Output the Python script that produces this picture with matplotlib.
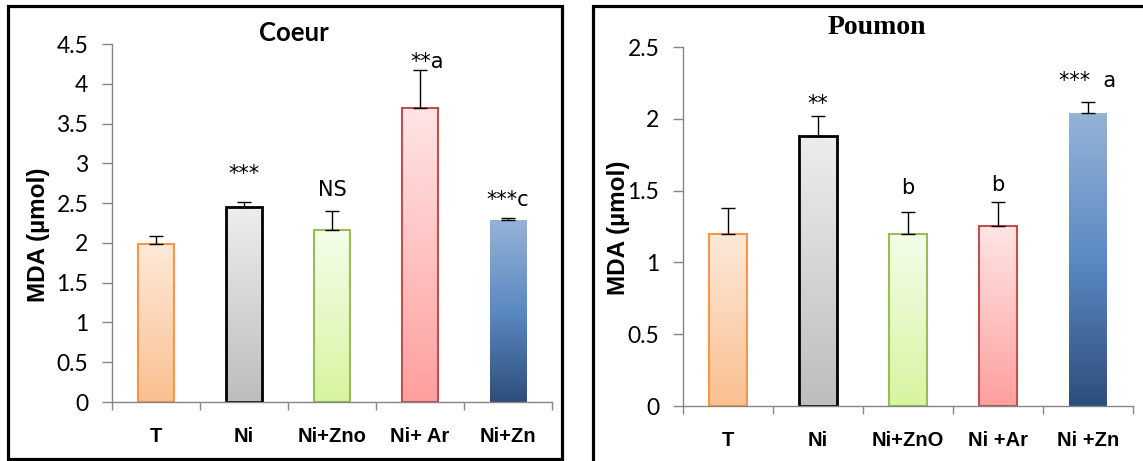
import numpy as np
import matplotlib
matplotlib.use("Agg")
import matplotlib.pyplot as plt
from matplotlib.colors import LinearSegmentedColormap
from matplotlib.patches import Rectangle

# data
coeur_labels = ["T", "Ni", "Ni+Zno", "Ni+ Ar", "Ni+Zn"]
coeur_values = [1.98, 2.45, 2.16, 3.70, 2.29]
coeur_err = [0.11, 0.06, 0.24, 0.47, 0.02]
coeur_marks = ["", "***", "NS", "**a", "***c"]
coeur_mark_y = [0, 2.87, 2.66, 4.28, 2.54]

poumon_labels = ["T", "Ni", "Ni+ZnO", "Ni +Ar", "Ni +Zn"]
poumon_values = [1.20, 1.88, 1.20, 1.25, 2.04]
poumon_err = [0.18, 0.14, 0.15, 0.17, 0.08]
poumon_marks = ["", "**", "b", "b", "***  a"]
poumon_mark_y = [0, 2.10, 1.52, 1.54, 2.26]

# gradient colours (top, ..., bottom) and edge colours per bar
grads = [
    ["#FDE9D9", "#FAC090"],
    ["#EDEDED", "#BDBDBD"],
    ["#F4FDEA", "#D7F5A0"],
    ["#FFE5E5", "#FF9F9F"],
    ["#95B3D7", "#5B89C3", "#2D4E7B"],
]
edges = ["#F79646", "#000000", "#9BBB59", "#C0504D", "none"]
edge_w = [1.5, 2.0, 1.5, 1.5, 0]

W, H = 1143, 461
fig = plt.figure(figsize=(W / 100, H / 100), dpi=100)


def fx(px):
    return px / W


def fy(py):
    return 1 - py / H


def panel(rect, labels, values, err, marks, mark_y, ymax, step):
    ax = fig.add_axes(rect)
    x = np.arange(len(values))
    bars = ax.bar(x, values, width=0.42, color="none", zorder=3)
    for i, b in enumerate(bars):
        cmap = LinearSegmentedColormap.from_list("g%d" % i, grads[i][::-1])
        grad = np.linspace(0, 1, 256).reshape(-1, 1)
        x0 = b.get_x()
        im = ax.imshow(grad, cmap=cmap, aspect="auto", origin="lower",
                       extent=[x0, x0 + b.get_width(), 0, b.get_height()], zorder=2)
        im.set_clip_path(b)
        b.set_edgecolor(edges[i])
        b.set_linewidth(edge_w[i])
    ax.errorbar(x, values, yerr=[np.zeros(len(err)), err], fmt="none",
                ecolor="black", elinewidth=1, capsize=5, capthick=1, zorder=4)
    for i, m in enumerate(marks):
        if m:
            ax.text(x[i] + (0.08 if m == "**a" else 0), mark_y[i], m, ha="center", va="center",
                    fontsize=15, family="DejaVu Sans")
    ax.set_xlim(-0.5, len(values) - 0.5)
    ax.set_ylim(0, ymax)
    ax.set_yticks(np.arange(0, ymax + 0.001, step))
    ax.set_yticklabels([("%g" % v) for v in np.arange(0, ymax + 0.001, step)],
                       family="Lato", fontsize=16.5)
    ax.set_xticks(x)
    ax.set_xticklabels(labels, fontweight="bold", family="Liberation Sans", fontsize=14.5)
    ax.set_xticks(np.arange(-0.5, len(values)), minor=True)
    ax.tick_params(axis="x", which="major", length=0, pad=18)
    ax.tick_params(axis="x", which="minor", length=6, color="#868686", width=1)
    ax.tick_params(axis="y", length=7, color="#868686", width=1, pad=10)
    for s in ["top", "right"]:
        ax.spines[s].set_visible(False)
    for s in ["left", "bottom"]:
        ax.spines[s].set_color("#868686")
        ax.spines[s].set_linewidth(1)
        ax.spines[s].set_zorder(5)
    return ax


ax1 = panel([fx(112), fy(402), fx(552) - fx(112), fy(44) - fy(402)],
            coeur_labels, coeur_values, coeur_err, coeur_marks, coeur_mark_y, 4.5, 0.5)
ax2 = panel([fx(683), fy(406), fx(1133) - fx(683), fy(47) - fy(406)],
            poumon_labels, poumon_values, poumon_err, poumon_marks, poumon_mark_y, 2.5, 0.5)

# titles and y labels
fig.text(fx(294), fy(33), "Coeur", ha="center", va="center", fontsize=18.5,
         fontweight="bold", family="Lato")
fig.text(fx(877), fy(27), "Poumon", ha="center", va="center", fontsize=20,
         fontweight="bold", family="Liberation Serif")
fig.text(fx(38), fy(235), "MDA (µmol)", ha="center", va="center", rotation=90,
         fontsize=17.5, fontweight="bold", family="Liberation Sans")
fig.text(fx(618), fy(228), "MDA (µmol)", ha="center", va="center", rotation=90,
         fontsize=17.5, fontweight="bold", family="Liberation Sans")

# panel frames
fig.patches.append(Rectangle((fx(8), fy(459)), fx(562) - fx(8), fy(6) - fy(459),
                             transform=fig.transFigure, fill=False, lw=2.3, ec="black"))
fig.patches.append(Rectangle((fx(593), fy(470)), fx(1160) - fx(593), fy(6) - fy(470),
                             transform=fig.transFigure, fill=False, lw=2.3, ec="black"))

fig.savefig("out.png", dpi=100)
